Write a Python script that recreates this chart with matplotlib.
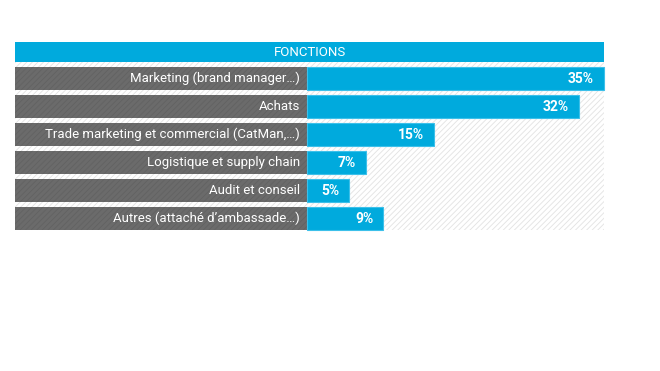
import numpy as np
import matplotlib.pyplot as plt
import matplotlib as mpl

mpl.rcParams['font.family'] = ['Roboto', 'DejaVu Sans']
mpl.rcParams['hatch.linewidth'] = 0.6

title = "FONCTIONS"
categories = [
    "Marketing (brand manager…)",
    "Achats",
    "Trade marketing et commercial (CatMan,…)",
    "Logistique et supply chain",
    "Audit et conseil",
    "Autres (attaché d’ambassade…)",
]
values = [35, 32, 15, 7, 5, 9]

blue = '#00aadd'
grey = '#6b6b6b'

fig = plt.figure(figsize=(6.6, 3.71), dpi=100)
ax = fig.add_axes([0, 0, 1, 1])

# x en pourcentage : 0 % a 307 px, 35 % a 604 px
ppu = (604 - 307) / 35.0
ax.set_xlim(-307 / ppu, (660 - 307) / ppu)
ax.set_ylim(371, 0)
ax.axis('off')

left = -292 / ppu   # debut des etiquettes (x = 15 px)
full = 35
y0, step, h = 78.5, 28, 23
ys = y0 + step * np.arange(len(categories))

# fond hachure
ax.bar(left, ys[-1] + h / 2 - 62, bottom=62, width=full - left, align='edge',
       color='white', edgecolor='#e2e2e2', hatch='//////', lw=0, zorder=1)

# bandeau titre
ax.barh(52, full - left, left=left, height=20, color=blue, zorder=2)
ax.text((left + full) / 2, 52.5, title, color='white', fontsize=9.5,
        ha='center', va='center', zorder=5)

# blocs d'etiquettes gris
ax.barh(ys, -left, left=left, height=h, color=grey, edgecolor='#626262',
        hatch='//////', lw=0, zorder=2)
for y, c in zip(ys, categories):
    ax.text(-0.8, y, c, color='white', fontsize=9.5, ha='right', va='center', zorder=5)

# barres
ax.barh(ys, values, height=h, color=blue, edgecolor='#3cc0ea', lw=0.8, zorder=3)
for y, v in zip(ys, values):
    ax.text(v - 1.2, y + 0.5, f"{v}%", color='white', fontsize=10, fontweight='bold',
            ha='right', va='center', zorder=5)

fig.savefig('out.png', dpi=100)
